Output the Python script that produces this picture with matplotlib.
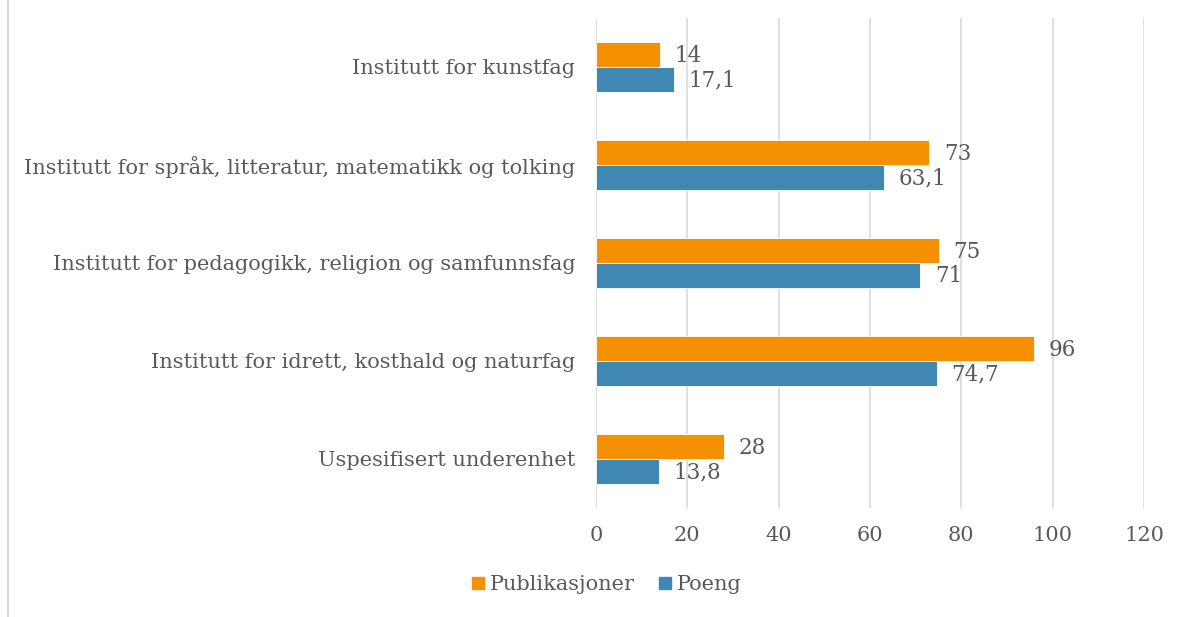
import numpy as np
import matplotlib.pyplot as plt
from matplotlib.lines import Line2D

# Data (top to bottom as shown)
institutter = [
    "Institutt for kunstfag",
    "Institutt for språk, litteratur, matematikk og tolking",
    "Institutt for pedagogikk, religion og samfunnsfag",
    "Institutt for idrett, kosthald og naturfag",
    "Uspesifisert underenhet",
]
publikasjoner = [14, 73, 75, 96, 28]
poeng = [17.1, 63.1, 71, 74.7, 13.8]
xticks = [0, 20, 40, 60, 80, 100, 120]

orange = "#F59100"
blue = "#3F88B4"
grey = "#595959"

plt.rcParams['font.family'] = ['DejaVu Serif']

fig = plt.figure(figsize=(11.79, 6.17), dpi=100)
ax = fig.add_axes([596/1179, 1 - 508/617, 548/1179, 490/617])

y = np.arange(len(institutter))
h = 0.26
ax.barh(y - h/2, publikasjoner, height=h, color=orange, edgecolor="white", linewidth=0.6, label="Publikasjoner", zorder=3)
ax.barh(y + h/2, poeng, height=h, color=blue, edgecolor="white", linewidth=0.6, label="Poeng", zorder=3)

def fmt(v):
    return (f"{v:g}").replace(".", ",")

for yi, v in zip(y, publikasjoner):
    ax.annotate(fmt(v), (v, yi - h/2), xytext=(10.5, -1.5), textcoords="offset points",
                va="center", ha="left", fontsize=15.5, color=grey)
for yi, v in zip(y, poeng):
    ax.annotate(fmt(v), (v, yi + h/2), xytext=(10.5, -0.5), textcoords="offset points",
                va="center", ha="left", fontsize=15.5, color=grey)

ax.set_ylim(len(institutter) - 0.5, -0.5)
ax.set_xlim(0, 120)
ax.set_xticks(xticks)
ax.set_yticks(y)
ax.set_yticklabels(institutter)
ax.tick_params(axis="both", length=0, colors=grey, labelsize=15)
ax.tick_params(axis="y", pad=15)
ax.tick_params(axis="x", pad=13)
ax.grid(axis="x", color="#D9D9D9", linewidth=1.2, zorder=0)
for s in ax.spines.values():
    s.set_visible(False)

handles = [Line2D([], [], marker="s", linestyle="", color=orange, markersize=9),
           Line2D([], [], marker="s", linestyle="", color=blue, markersize=9)]
leg = fig.legend(handles, ["Publikasjoner", "Poeng"], loc="center",
                 bbox_to_anchor=(605/1179, 1 - 585/617), ncol=2, frameon=False,
                 fontsize=15, handletextpad=0.1, columnspacing=1.0, handlelength=0.9)
for t in leg.get_texts():
    t.set_color(grey)

# left border of the chart frame
fig.add_artist(Line2D([8/1179, 8/1179], [0, 1], color="#D9D9D9", linewidth=1.5))

fig.savefig("out.png", dpi=100, facecolor="white")
